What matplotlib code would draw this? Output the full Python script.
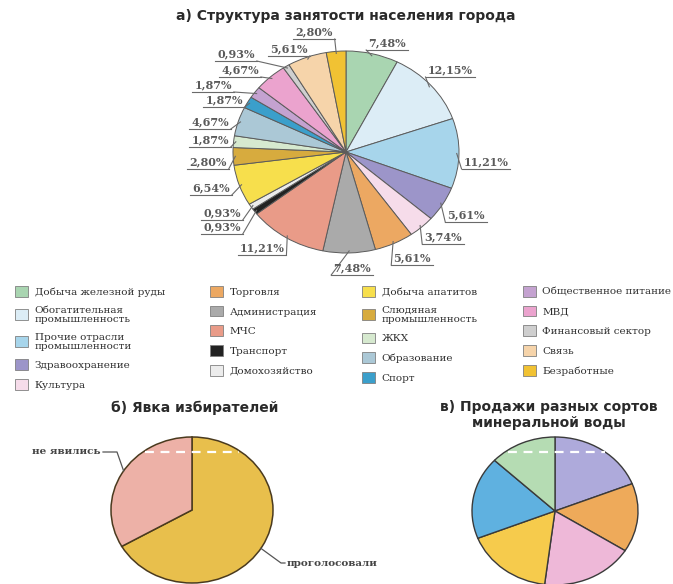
import matplotlib
matplotlib.use('Agg')
import matplotlib.pyplot as plt
from matplotlib.patches import Patch
import numpy as np

W, H, DPI = 673, 584, 100

# ---------------- data ----------------
sectors = ['Добыча железной руды', 'Обогатительная\nпромышленность',
           'Прочие отрасли\nпромышленности', 'Здравоохранение', 'Культура',
           'Торговля', 'Администрация', 'МЧС', 'Транспорт', 'Домохозяйство',
           'Добыча апатитов', 'Слюдяная\nпромышленность', 'ЖКХ', 'Образование',
           'Спорт', 'Общественное питание', 'МВД', 'Финансовый сектор',
           'Связь', 'Безработные']
shares = [7.48, 12.15, 11.21, 5.61, 3.74, 5.61, 7.48, 11.21, 0.93, 0.93,
          6.54, 2.80, 1.87, 4.67, 1.87, 1.87, 4.67, 0.93, 5.61, 2.80]
sector_colors = ['#a9d5b1', '#dcedf6', '#a7d5eb', '#9c95c9', '#f6dcea',
                 '#eca862', '#aaaaaa', '#e99b88', '#222222', '#ececec',
                 '#f7df4c', '#d7ab3e', '#d6e9cf', '#abc8d6', '#3b9fcb',
                 '#c4a2d0', '#eba3ce', '#cfcfcf', '#f6d4aa', '#f1c233']

turnout_labels = ['проголосовали', 'не явились']
turnout_values = [66.7, 33.3]
turnout_colors = ['#e8bf4c', '#edb1a7']

water_values = [19, 15, 18, 17, 18, 13]
water_colors = ['#aeaadb', '#eeaa5a', '#eeb8d8', '#f6cb4c', '#5fb1e0', '#b5dcb3']

# ---------------- layout (pixels) ----------------
# label centre positions and the side of the underline the leader leaves from
label_pos = [(387, 43, 'L'), (450, 70, 'L'), (486, 162, 'L'), (466, 215, 'L'),
             (443, 237, 'L'), (412, 258, 'L'), (352, 268, 'L'), (262, 248, 'R'),
             (222, 227, 'R'), (222, 213, 'R'), (211, 188, 'R'), (208, 162, 'R'),
             (210, 140, 'R'), (210, 122, 'R'), (224, 100, 'R'), (213, 85, 'R'),
             (240, 70, 'R'), (236, 54, 'R'), (289, 49, 'R'), (314, 32, 'R')]

fig = plt.figure(figsize=(W / DPI, H / DPI), dpi=DPI)
fig.patch.set_facecolor('white')


def pie_axes(cx, cy, rx, ry):
    ax = fig.add_axes([(cx - rx) / W, (H - cy - ry) / H, 2 * rx / W, 2 * ry / H])
    return ax


def finish(ax):
    ax.set_aspect('auto')
    ax.set_xlim(-1, 1)
    ax.set_ylim(-1, 1)
    ax.axis('off')


# ---- pie a ----
P1 = (346, 152, 113, 101)
ax1 = pie_axes(*P1)
wedges1, _ = ax1.pie(shares, colors=sector_colors, startangle=90, counterclock=False,
                     radius=1, wedgeprops=dict(edgecolor='#5b5b5b', linewidth=0.7, clip_on=False))
finish(ax1)

# ---- pie b ----
P2 = (192, 510, 81, 73)
ax2 = pie_axes(*P2)
wedges2, _ = ax2.pie(turnout_values, colors=turnout_colors, startangle=90, counterclock=False,
                     radius=1, wedgeprops=dict(edgecolor='#4a3a1e', linewidth=1.1, clip_on=False))
finish(ax2)

# ---- pie c ----
P3 = (555, 511, 83, 74)
ax3 = pie_axes(*P3)
wedges3, _ = ax3.pie(water_values, colors=water_colors, startangle=90, counterclock=False,
                     radius=1, wedgeprops=dict(edgecolor='#3a3a3a', linewidth=1.0, clip_on=False))
finish(ax3)

# ---- overlay in pixel coordinates ----
ov = fig.add_axes([0, 0, 1, 1])
ov.set_xlim(0, W)
ov.set_ylim(H, 0)
ov.axis('off')
ov.patch.set_alpha(0)


def edge_point(P, ang_deg, k=1.0):
    cx, cy, rx, ry = P
    a = np.deg2rad(ang_deg)
    return cx + k * rx * np.cos(a), cy - k * ry * np.sin(a)


renderer = fig.canvas.get_renderer()
lab_kw = dict(fontsize=8, family='DejaVu Serif', weight='bold', color='#5a5a5a')
for w, v, (x, y, side) in zip(wedges1, shares, label_pos):
    t = ov.text(x, y, f'{v:.2f}%'.replace('.', ','), ha='center', va='center', **lab_kw)
    bb = t.get_window_extent(renderer)
    x0, x1 = bb.x0 - 2, bb.x1 + 2
    yu = H - bb.y0 + 1.5
    ov.plot([x0, x1], [yu, yu], color='#6a6a6a', lw=0.8)
    ex, ey = edge_point(P1, (w.theta1 + w.theta2) / 2, 0.98)
    xa = x0 if side == 'L' else x1
    ov.plot([xa, ex], [yu, ey], color='#6a6a6a', lw=0.8)

# titles
title_kw = dict(fontsize=10, weight='bold', family='DejaVu Sans', color='#2a2a2a',
                ha='center', va='center')
ov.text(346, 16, 'а) Структура занятости населения города', **title_kw)
ov.text(195, 408, 'б) Явка избирателей', **title_kw)
ov.text(549, 415, 'в) Продажи разных сортов\nминеральной воды', linespacing=1.15, **title_kw)

# pie b labels
small_kw = dict(fontsize=7.5, family='DejaVu Serif', weight='bold', color='#444444', va='center')
ov.text(100, 452, turnout_labels[1], ha='right', **small_kw)
ex, ey = edge_point(P2, 147.6)
ov.plot([103, 117, ex], [452, 452, ey], color='#555555', lw=0.9)
ov.text(287, 563, turnout_labels[0], ha='left', **small_kw)
ex, ey = edge_point(P2, -31.7)
ov.plot([ex, 281, 285], [ey, 563, 563], color='#555555', lw=0.9)

# white dashed lines
ov.plot([145, 239], [452, 452], color='white', lw=1.6, ls=(0, (4, 3)))
ov.plot([508, 605], [452, 452], color='white', lw=1.6, ls=(0, (4, 3)))

# legend
handles = [Patch(facecolor=c, edgecolor='#808080', linewidth=0.6) for c in sector_colors]
leg = fig.legend(handles, sectors, ncol=4, loc='upper left',
                 bbox_to_anchor=(15 / W, 1 - 286 / H), frameon=False,
                 prop=dict(family='DejaVu Serif', size=7.5),
                 handlelength=1.25, handleheight=1.2, handletextpad=0.65,
                 columnspacing=4.3, labelspacing=0.85, borderpad=0, borderaxespad=0)
for t in leg.get_texts():
    t.set_linespacing(1.0)
    t.set_color('#2e2e2e')

fig.savefig('out.png', dpi=DPI, facecolor='white')
